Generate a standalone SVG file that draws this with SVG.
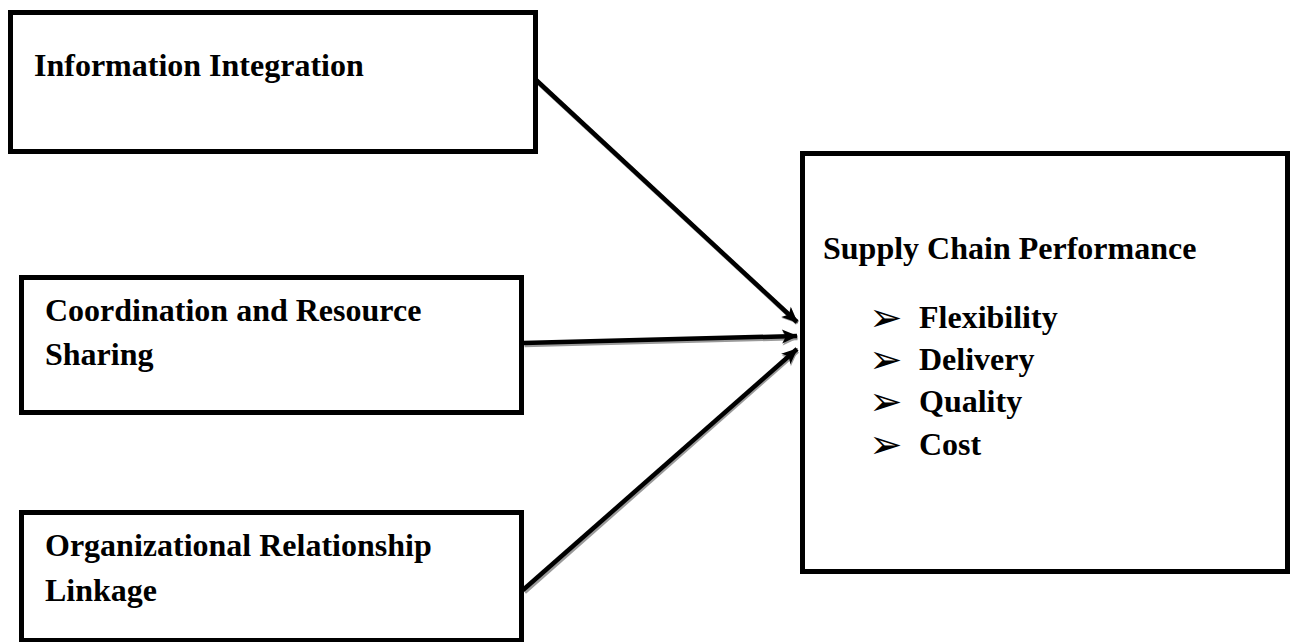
<svg xmlns="http://www.w3.org/2000/svg" width="1290" height="642" viewBox="0 0 1290 642">
<style>
.box{fill:#fff;stroke:#000;stroke-width:5}
.t{font-family:"Liberation Serif","Times New Roman",serif;font-weight:bold;font-size:32px;fill:#000}
.b{font-family:"DejaVu Sans",sans-serif;font-size:40px;fill:#000}
.ln{stroke:#000;stroke-width:4.5;fill:none}
.sh{stroke:#9a9a9a;stroke-width:4.5;fill:none}
</style>
<defs>
<marker id="ah" markerUnits="userSpaceOnUse" markerWidth="20" markerHeight="20" viewBox="0 0 20 20" refX="17" refY="10" orient="auto">
<path d="M2,3 L18,10 L2,17 L6,10 Z" fill="#000"/>
</marker>
<marker id="ahs" markerUnits="userSpaceOnUse" markerWidth="20" markerHeight="20" viewBox="0 0 20 20" refX="17" refY="10" orient="auto">
<path d="M2,3 L18,10 L2,17 L6,10 Z" fill="#9a9a9a"/>
</marker>
</defs>
<rect width="1290" height="642" fill="#fff"/>
<g id="connectors">
<g transform="translate(1.5,2)">
<line class="sh" x1="535" y1="79" x2="796" y2="321" marker-end="url(#ahs)"/>
<line class="sh" x1="523" y1="343" x2="796" y2="336" marker-end="url(#ahs)"/>
<line class="sh" x1="523" y1="590" x2="796" y2="349" marker-end="url(#ahs)"/>
</g>
<line class="ln" x1="535" y1="79" x2="797" y2="322" marker-end="url(#ah)"/>
<line class="ln" x1="523" y1="343" x2="797" y2="336" marker-end="url(#ah)"/>
<line class="ln" x1="523" y1="590" x2="797" y2="349" marker-end="url(#ah)"/>
</g>
<g id="node-info">
<rect class="box" x="10.5" y="12.5" width="525" height="139"/>
<text class="t" x="34" y="76">Information Integration</text>
</g>
<g id="node-coord">
<rect class="box" x="21.5" y="277.5" width="500" height="135"/>
<text class="t" x="45" y="321">Coordination and Resource</text>
<text class="t" x="45" y="365">Sharing</text>
</g>
<g id="node-org">
<rect class="box" x="21.5" y="512.5" width="500" height="128"/>
<text class="t" x="45" y="556">Organizational Relationship</text>
<text class="t" x="45" y="601">Linkage</text>
</g>
<g id="node-scp">
<rect class="box" x="802.5" y="153.5" width="485" height="418"/>
<text class="t" x="823" y="259">Supply Chain Performance</text>
<text class="b" x="869" y="331">➢</text>
<text class="t" x="919" y="328">Flexibility</text>
<text class="b" x="869" y="373">➢</text>
<text class="t" x="919" y="370">Delivery</text>
<text class="b" x="869" y="415">➢</text>
<text class="t" x="919" y="412">Quality</text>
<text class="b" x="869" y="458">➢</text>
<text class="t" x="919" y="455">Cost</text>
</g>
</svg>
